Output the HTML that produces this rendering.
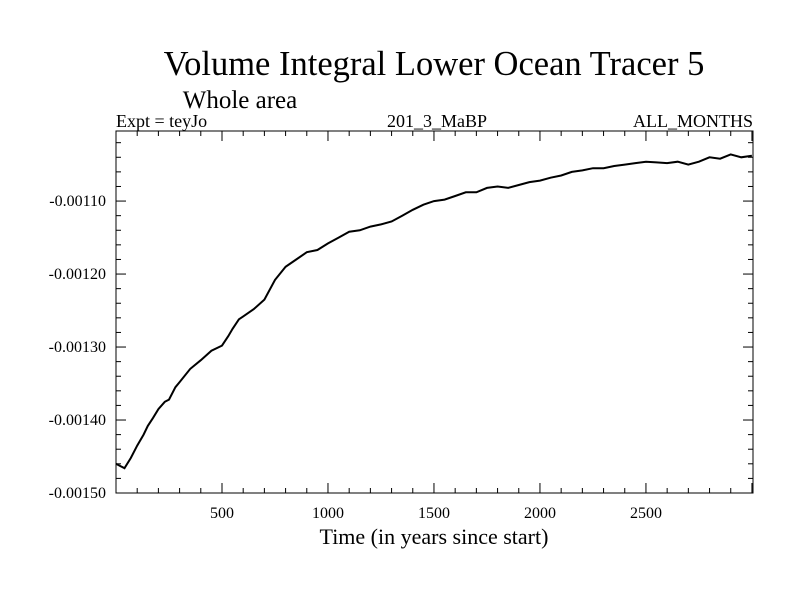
<!DOCTYPE html>
<html><head><meta charset="utf-8"><style>
body{margin:0;background:#fff}
svg{display:block;font-family:"Liberation Serif",serif}
</style></head><body>
<svg id="chart" width="800" height="600" xmlns="http://www.w3.org/2000/svg">
<rect width="800" height="600" fill="#fff"/>
<text x="434" y="75" font-size="34.5" text-anchor="middle">Volume Integral Lower Ocean Tracer 5</text>
<text x="240" y="108" font-size="25" text-anchor="middle">Whole area</text>
<text x="116" y="127" font-size="18">Expt = teyJo</text>
<text x="437" y="127" font-size="18" text-anchor="middle">201_3_MaBP</text>
<text x="753" y="127" font-size="18" text-anchor="end">ALL_MONTHS</text>
<text x="434" y="544" font-size="22" text-anchor="middle">Time (in years since start)</text>
<g id="axes"></g>
<path id="series" fill="none" stroke="#000" stroke-width="2"/>
<rect x="116" y="131" width="637" height="362" fill="none" stroke="#000" stroke-width="1"/>
</svg>
<script>
const years=[0,20,40,70,100,130,150,175,200,230,250,280,300,350,400,450,500,530,550,580,600,650,700,750,800,850,900,950,1000,1050,1100,1150,1200,1250,1300,1350,1400,1450,1500,1550,1600,1650,1700,1750,1800,1850,1900,1950,2000,2050,2100,2150,2200,2250,2300,2350,2400,2450,2500,2550,2600,2650,2700,2750,2800,2850,2900,2950,3000];
const values=[-0.001460,-0.001463,-0.001466,-0.001452,-0.001435,-0.001420,-0.001408,-0.001397,-0.001385,-0.001375,-0.001372,-0.001355,-0.001348,-0.001330,-0.001318,-0.001305,-0.001298,-0.001285,-0.001275,-0.001262,-0.001258,-0.001248,-0.001235,-0.001208,-0.001190,-0.001180,-0.001170,-0.001167,-0.001158,-0.001150,-0.001142,-0.001140,-0.001135,-0.001132,-0.001128,-0.001120,-0.001112,-0.001105,-0.001100,-0.001098,-0.001093,-0.001088,-0.001088,-0.001082,-0.001080,-0.001082,-0.001078,-0.001074,-0.001072,-0.001068,-0.001065,-0.001060,-0.001058,-0.001055,-0.001055,-0.001052,-0.001050,-0.001048,-0.001046,-0.001047,-0.001048,-0.001046,-0.001050,-0.001046,-0.001040,-0.001042,-0.001036,-0.001040,-0.001038];
const xTicks=[500,1000,1500,2000,2500];
const yTicks=[-0.00150,-0.00140,-0.00130,-0.00120,-0.00110];
const yTickLabels=["-0.00150","-0.00140","-0.00130","-0.00120","-0.00110"];
const L=116,R=753,T=131,B=493,X0=0,X1=3005,Y0=-0.00150,Y1=-0.001004;
function sx(v){return L+(v-X0)/(X1-X0)*(R-L);}
function sy(v){return B-(v-Y0)/(Y1-Y0)*(B-T);}
const NS="http://www.w3.org/2000/svg";
const g=document.getElementById('axes');
function line(x1,y1,x2,y2,name){const l=document.createElementNS(NS,'line');l.setAttribute('x1',x1);l.setAttribute('y1',y1);l.setAttribute('x2',x2);l.setAttribute('y2',y2);l.setAttribute('stroke','#000');


g.appendChild(l);}
function text(x,y,s,anchor,name){const t=document.createElementNS(NS,'text');t.setAttribute('x',x);t.setAttribute('y',y);t.setAttribute('font-size','16');t.setAttribute('text-anchor',anchor);t.textContent=s;


g.appendChild(t);}
for(let v=100;v<X1;v+=100){const x=sx(v);const major=v%500===0;const len=major?10:5;line(x,B,x,B-len,'x-tick');line(x,T,x,T+len,'x-tick');}
xTicks.forEach(v=>text(sx(v),B+25,String(v),'middle','x-tick-label'));
for(let i=0;i<=25;i++){const v=Y0+i*0.00002;if(v>Y1)break;const y=sy(v);const major=i%5===0;const len=major?10:5;line(L,y,L+len,y,'y-tick');line(R,y,R-len,y,'y-tick');}
yTicks.forEach((v,i)=>text(L-10,sy(v)+5,yTickLabels[i],'end','y-tick-label'));
document.getElementById('series').setAttribute('d',years.map((t,i)=>(i?'L':'M')+sx(t).toFixed(1)+' '+sy(values[i]).toFixed(1)).join(' '));
</script>
</body></html>
